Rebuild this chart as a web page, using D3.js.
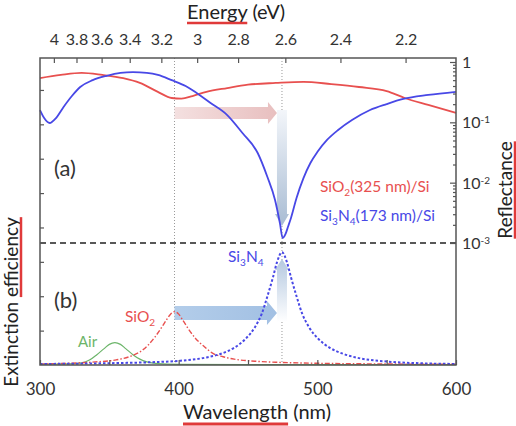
<!DOCTYPE html>
<html>
<head>
<meta charset="utf-8">
<title>reflectance / extinction</title>
<script src="https://cdn.jsdelivr.net/npm/d3@7"></script>
<style>
body { margin: 0; background: #fff; }
text { font-family: Lato, "Open Sans", sans-serif; }
</style>
</head>
<body>
<script>
var w = 516, h = 426;
var box = {left: 40, right: 456, top: 58, bottom: 365};

// reflectance, upper panel (log)
var reflWl   = [300, 315, 330, 345, 360, 372, 385, 395, 402, 410, 420, 435, 450, 470, 490, 510, 530, 550, 563, 580, 600];
var reflSiO2 = [0.54, 0.61, 0.66, 0.61, 0.54, 0.45, 0.32, 0.253, 0.248, 0.273, 0.32, 0.37, 0.42, 0.45, 0.47, 0.43, 0.385, 0.33, 0.253, 0.194, 0.143];

var reflWlN   = [300, 303, 307, 311, 317, 323, 329, 338, 348, 358, 367, 377, 385, 395, 405, 410, 423, 435, 446, 457, 464, 469.5, 473, 475, 477, 479, 481, 485, 490, 495, 500, 507, 515, 525, 538, 550, 562, 580, 600];
var reflSi3N4 = [0.16, 0.118, 0.0975, 0.114, 0.18, 0.273, 0.385, 0.5, 0.59, 0.66, 0.68, 0.66, 0.61, 0.5, 0.4, 0.34, 0.209, 0.132, 0.0665, 0.031, 0.0124, 0.00516, 0.00214, 0.00121, 0.0014, 0.0019, 0.0026, 0.00557, 0.0119, 0.0212, 0.0322, 0.051, 0.0746, 0.109, 0.16, 0.201, 0.244, 0.284, 0.32];

// extinction, lower panel
var extWlSiO2 = [300, 320, 340, 355, 365, 372, 378, 383, 387, 391, 394, 397, 400, 403, 407, 412, 418, 425, 432, 440, 455, 470, 500, 550, 600];
var extSiO2   = [0.03, 0.05, 0.09, 0.15, 0.25, 0.38, 0.58, 0.82, 1.05, 1.3, 1.47, 1.55, 1.48, 1.3, 1.05, 0.78, 0.55, 0.33, 0.24, 0.17, 0.11, 0.08, 0.05, 0.03, 0.02];

var extWlSi3N4 = [300, 330, 360, 380, 400, 420, 430, 440, 448, 455, 460, 464, 468, 471, 474.5, 478, 481, 485, 489, 494, 501, 509, 519, 530, 550, 575, 600];
var extSi3N4   = [0.03, 0.04, 0.06, 0.08, 0.12, 0.22, 0.32, 0.5, 0.75, 1.1, 1.5, 2.0, 2.55, 3.0, 3.28, 3.0, 2.55, 2.0, 1.5, 1.1, 0.75, 0.5, 0.32, 0.2, 0.1, 0.05, 0.03];

var extWlAir = [300, 320, 330, 336, 341, 346, 350, 354, 358, 362, 367, 372, 377, 385, 400, 450, 600];
var extAir   = [0.02, 0.03, 0.06, 0.15, 0.3, 0.47, 0.6, 0.65, 0.6, 0.47, 0.3, 0.17, 0.09, 0.04, 0.02, 0.01, 0.01];

// axes
var wlTicks = [300, 350, 400, 450, 500, 550, 600];
var wlLabels = [300, 400, 500, 600];
var energyTicks = [4, 3.8, 3.6, 3.4, 3.2, 3, 2.8, 2.6, 2.4, 2.2];
var reflTicks = [0.001, 0.01, 0.1, 1];
var reflExp = ["-3", "-2", "-1", ""];
var extTicks = [1, 2, 3, 4, 5, 6, 7, 8];

var markWl = [397, 474.5];

var red = "#e8504f", blue = "#4848e6", green = "#6cb56a", ink = "#333";

var svg = d3.select("body").append("svg").attr("width", w).attr("height", h);

var x = d3.scaleLinear().domain([300, 600]).range([box.left, box.right]);
var yR = d3.scaleLog().domain([1e-3, 1]).range([243, 62]);
var yE = d3.scaleLinear().domain([0, 8.9]).range([box.bottom, 59]);

var defs = svg.append("defs");
function grad(id, x2, y2, c1, c2) {
	var g = defs.append("linearGradient").attr("id", id)
		.attr("x1", 0).attr("y1", 0).attr("x2", x2).attr("y2", y2);
	g.append("stop").attr("offset", 0).attr("stop-color", c1);
	g.append("stop").attr("offset", 1).attr("stop-color", c2);
}
grad("gPink", 1, 0, "#f4e0e0", "#e8bfbf");
grad("gDown", 0, 1, "#f3f6fa", "#a8bcd3");
grad("gBlue", 1, 0, "#b3cdea", "#a2c0e3");
grad("gUp", 0, 1, "#b4c8e0", "#ffffff");

// guide lines
svg.selectAll(".mark").data(markWl).enter().append("line")
	.attr("x1", function(d){return x(d);}).attr("x2", function(d){return x(d);})
	.attr("y1", box.top).attr("y2", box.bottom)
	.attr("stroke", "#9a9a9a").attr("stroke-width", 1).attr("stroke-dasharray", "1,2");

svg.append("line").attr("x1", box.left).attr("x2", box.right)
	.attr("y1", yR(1e-3)).attr("y2", yR(1e-3))
	.attr("stroke", "#222").attr("stroke-width", 1.5).attr("stroke-dasharray", "6,4");

// arrows
var xa = x(markWl[0]), xb = x(markWl[1]);
svg.append("path").attr("fill", "url(#gPink)")
	.attr("d", "M" + xa + ",107 H" + (xb - 14) + " V102 L" + (xb - 5) + ",113 L" + (xb - 14) + ",124 V119 H" + xa + " Z");
svg.append("path").attr("fill", "url(#gDown)")
	.attr("d", "M" + (xb - 5) + ",110 H" + (xb + 5) + " V214 L" + (xb + 7) + ",214 L" + xb + ",226 L" + (xb - 7) + ",214 L" + (xb - 5) + ",214 Z");
svg.append("path").attr("fill", "url(#gBlue)")
	.attr("d", "M" + xa + ",306 H" + (xb - 15) + " V301 L" + (xb - 5) + ",313 L" + (xb - 15) + ",325 V320 H" + xa + " Z");
svg.append("path").attr("fill", "url(#gUp)")
	.attr("d", "M" + (xb - 5) + ",322 V270 L" + (xb - 7) + ",270 L" + xb + ",259 L" + (xb + 7) + ",270 L" + (xb + 5) + ",270 V322 Z");

// curves
function draw(xs, ys, yscale, color, width, dash) {
	var line = d3.line()
		.x(function(d, i){return x(xs[i]);})
		.y(function(d){return yscale(d);})
		.curve(d3.curveMonotoneX);
	svg.append("path").datum(ys).attr("d", line)
		.attr("fill", "none").attr("stroke", color).attr("stroke-width", width)
		.attr("stroke-dasharray", dash || null);
}
draw(extWlAir, extAir, yE, green, 1.2);
draw(extWlSiO2, extSiO2, yE, red, 1.4, "5,2,1.5,2");
draw(extWlSi3N4, extSi3N4, yE, blue, 2, "2.5,2");
draw(reflWl, reflSiO2, yR, red, 1.8);
draw(reflWlN, reflSi3N4, yR, blue, 1.8);

// frame
svg.append("rect").attr("x", box.left).attr("y", box.top)
	.attr("width", box.right - box.left).attr("height", box.bottom - box.top)
	.attr("fill", "none").attr("stroke", "#555").attr("stroke-width", 1.5);

// bottom axis
var gx = svg.append("g").attr("transform", "translate(0," + box.bottom + ")")
	.call(d3.axisBottom(x).tickValues(wlTicks).tickSizeInner(-5).tickSizeOuter(0).tickPadding(18)
		.tickFormat(function(d){return wlLabels.indexOf(d) >= 0 ? d : "";}));
gx.selectAll("text").attr("font-size", 17).attr("fill", ink).attr("font-family", "Lato, sans-serif");

// top axis (energy)
var gt = svg.append("g").attr("transform", "translate(0," + box.top + ")")
	.call(d3.axisTop(x).tickValues(energyTicks.map(function(e){return 1240 / e;}))
		.tickSizeInner(-5).tickSizeOuter(0).tickPadding(13)
		.tickFormat(function(d, i){return energyTicks[i];}));
gt.selectAll("text").attr("font-size", 16).attr("fill", ink).attr("font-family", "Lato, sans-serif");

// left axis
svg.append("g").attr("transform", "translate(" + box.left + ",0)")
	.call(d3.axisLeft(yE).tickValues(extTicks).tickSizeInner(-4).tickSizeOuter(0).tickFormat(""));

// right axis, log with minor ticks
var minor = [];
[0.001, 0.01, 0.1].forEach(function(b){ for (var k = 2; k < 10; k++) minor.push(b * k); });
svg.append("g").attr("transform", "translate(" + box.right + ",0)")
	.call(d3.axisRight(yR).tickValues(minor).tickSizeInner(-3).tickSizeOuter(0).tickFormat(""));
var gr = svg.append("g").attr("transform", "translate(" + box.right + ",0)")
	.call(d3.axisRight(yR).tickValues(reflTicks).tickSizeInner(-6).tickSizeOuter(0).tickPadding(6)
		.tickFormat(""));
gr.selectAll(".tick").append("text")
	.attr("x", 6).attr("dy", "0.35em").attr("fill", ink).attr("font-size", 16)
	.attr("font-family", "Lato, sans-serif")
	.each(function(d, i){
		var t = d3.select(this);
		if (reflExp[i] === "") { t.text("1"); return; }
		t.append("tspan").text("10");
		t.append("tspan").attr("font-size", 10).attr("dy", -5).text(reflExp[i]);
	});

svg.selectAll(".domain").remove();
svg.selectAll(".tick line").attr("stroke", "#555").attr("stroke-width", 1.2);

// labels with red underline
function underlined(g, str, n, size) {
	var t = g.append("text").attr("font-size", size).attr("fill", "#222").text(str);
	var len = t.node().getSubStringLength(0, n);
	return {t: t, len: len, total: t.node().getComputedTextLength()};
}
var ge = svg.append("g").attr("transform", "translate(187,19)");
var e1 = underlined(ge, "Energy (eV)", 6, 20);
ge.append("line").attr("x1", 0).attr("x2", e1.len).attr("y1", 4).attr("y2", 4)
	.attr("stroke", "#e03a3a").attr("stroke-width", 2.5);

var gw = svg.append("g").attr("transform", "translate(183,419)");
var w1 = underlined(gw, "Wavelength (nm)", 10, 20);
gw.append("line").attr("x1", 0).attr("x2", w1.len).attr("y1", 5).attr("y2", 5)
	.attr("stroke", "#e03a3a").attr("stroke-width", 3);

var gy = svg.append("g").attr("transform", "translate(18,302) rotate(-90)");
var y1 = underlined(gy, "Extinction efficiency", 11, 19);
y1.t.attr("x", -y1.total / 2);
gy.append("line").attr("x1", -y1.total / 2 + y1.len).attr("x2", y1.total / 2).attr("y1", 3).attr("y2", 3)
	.attr("stroke", "#e03a3a").attr("stroke-width", 2.5);

var gz = svg.append("g").attr("transform", "translate(512,190) rotate(-90)");
var z1 = underlined(gz, "Reflectance", 11, 19);
z1.t.attr("x", -z1.total / 2);
gz.append("line").attr("x1", -z1.total / 2).attr("x2", z1.total / 2).attr("y1", 3).attr("y2", 3)
	.attr("stroke", "#e03a3a").attr("stroke-width", 2.5);

// panel letters
svg.append("text").attr("x", 54).attr("y", 176).attr("font-size", 22).attr("fill", ink).text("(a)");
svg.append("text").attr("x", 54).attr("y", 308).attr("font-size", 22).attr("fill", ink).text("(b)");

// series labels with subscripts
function chem(xp, yp, parts, color, size) {
	var t = svg.append("text").attr("x", xp).attr("y", yp).attr("font-size", size).attr("fill", color);
	var shift = 0;
	parts.forEach(function(p){
		if (p.sub) {
			t.append("tspan").attr("font-size", size * 0.65).attr("dy", 4 - shift).text(p.sub);
			shift = 4;
		} else {
			t.append("tspan").attr("dy", -shift).text(p.s);
			shift = 0;
		}
	});
}
chem(320, 192, [{s: "SiO"}, {sub: "2"}, {s: "(325 nm)/Si"}], red, 15.5);
chem(320, 221, [{s: "Si"}, {sub: "3"}, {s: "N"}, {sub: "4"}, {s: "(173 nm)/Si"}], blue, 15.5);
chem(228, 262, [{s: "Si"}, {sub: "3"}, {s: "N"}, {sub: "4"}], blue, 15.5);
chem(125, 322, [{s: "SiO"}, {sub: "2"}], red, 15.5);
svg.append("text").attr("x", 78).attr("y", 347).attr("font-size", 15).attr("fill", green).text("Air");
</script>
</body>
</html>
